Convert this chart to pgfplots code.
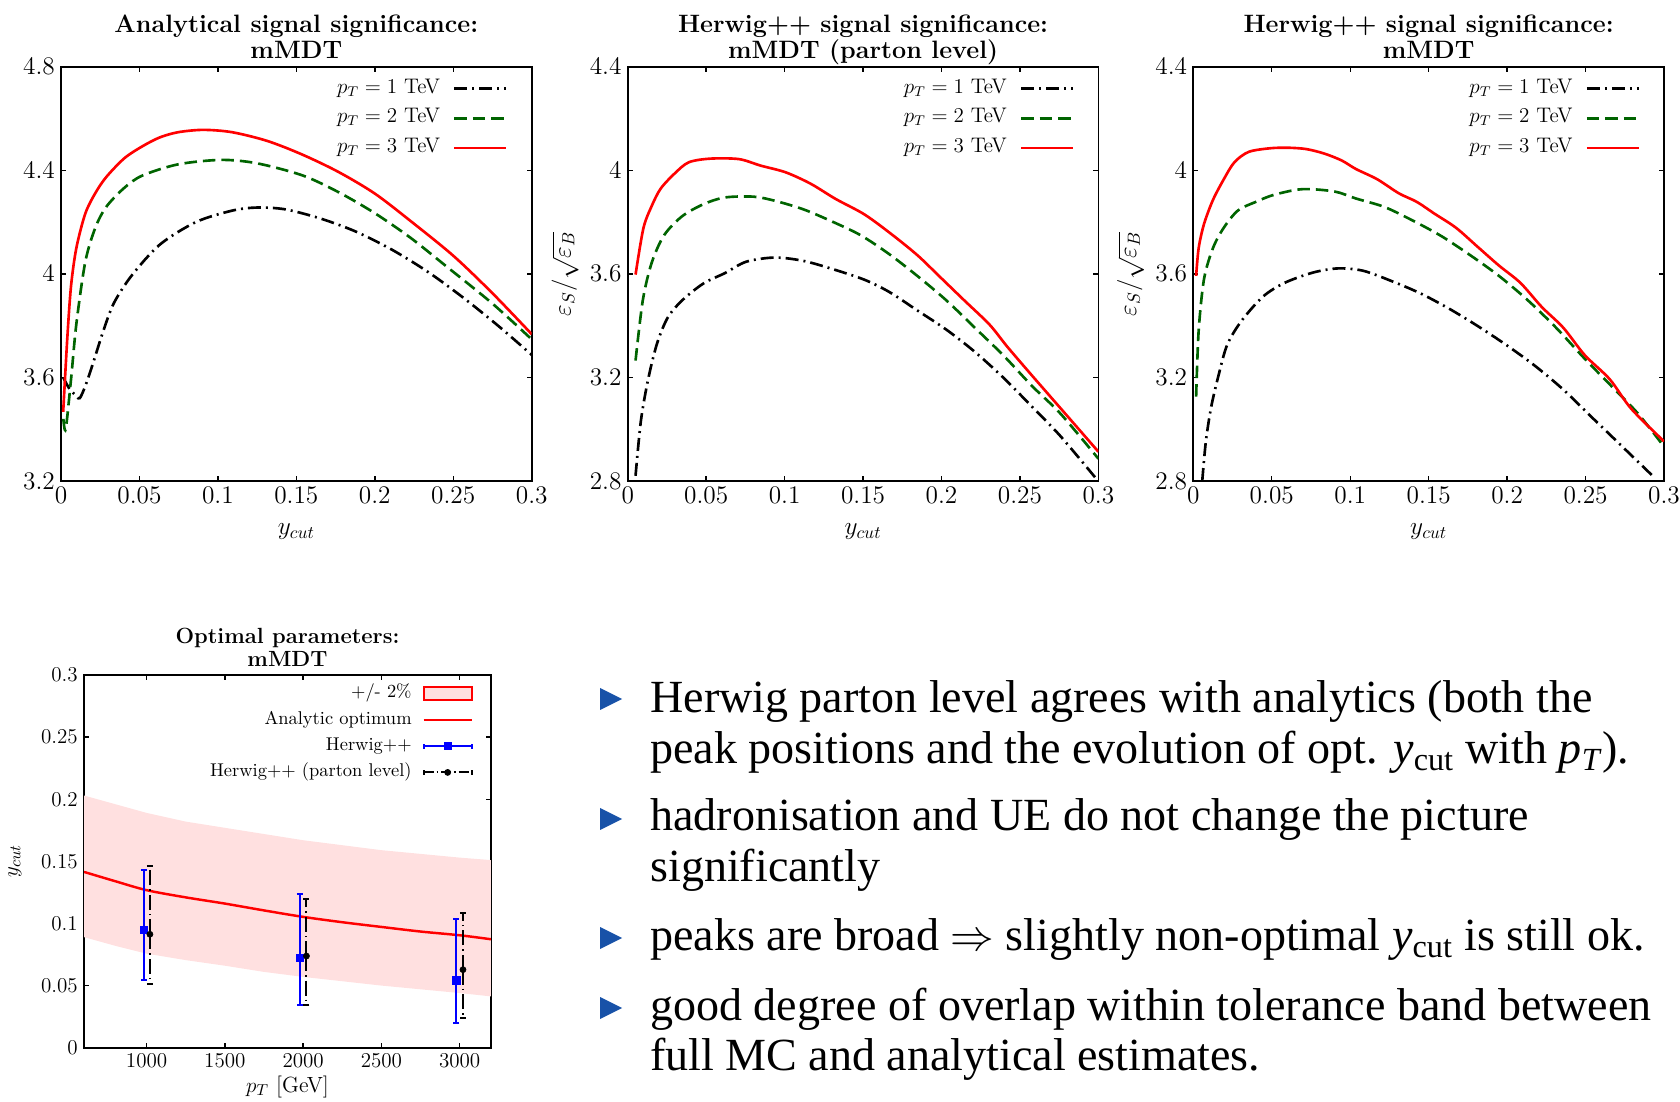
\documentclass[border=0pt]{standalone}
\usepackage{fontspec}
\usepackage{pgfplots}
\pgfplotsset{compat=1.18}
\newfontfamily\bulletfont{Liberation Serif}
\definecolor{dkgreen}{RGB}{0,100,0}
\definecolor{bandpink}{RGB}{255,224,224}
\definecolor{bulletblue}{RGB}{24,82,168}
\newcommand{\yc}{\textit{y}\textsubscript{cut}}
\newcommand{\pT}{\textit{p}\textsubscript{\textit{T}}}
\newcommand{\nodepth}[1]{\raisebox{0pt}[\height][0pt]{#1}}

\pgfplotsset{
  common/.style={
    scale only axis, anchor=south west,
    scaled ticks=false, minor tick num=0,
    axis line style={line width=1pt},
    major tick length=0.1cm,
    every tick/.style={black, line width=0.8pt},
    title style={align=center, yshift=-0.17cm},
    legend cell align=right, legend plot pos=right,
  },
  sigplot/.style={
    common, width=9.414cm, height=8.286cm,
    xmin=0, xmax=0.3, xtick={0,0.05,0.1,0.15,0.2,0.25,0.3},
    xticklabel style={/pgf/number format/fixed, /pgf/number format/precision=2},
    yticklabel style={/pgf/number format/fixed, /pgf/number format/precision=1},
    font=\fontsize{14.3}{15.5}\selectfont,
    title style={font=\fontsize{14.3}{14.8}\selectfont\bfseries},
    xlabel={$y_{cut}$},
    xlabel style={at={(axis description cs:0.5,-0.123)}, anchor=center},
    ylabel style={at={(axis description cs:-0.133,0.5)}, anchor=center},
    legend style={draw=none, fill=none, at={(0.95,0.969)}, anchor=north east,
      font=\fontsize{12}{13}\selectfont, row sep=0.24cm, column sep=0.26cm,
      inner sep=0pt, nodes={inner sep=0pt, text height=0.75em, text depth=0.25em}},
    legend image code/.code={\draw[#1] (0cm,0cm) -- (1.04cm,0cm);},
  },
  ptone/.style={black, line width=1.5pt, dash pattern=on 0.26cm off 0.1cm on 0.04cm off 0.1cm},
  pttwo/.style={dkgreen, line width=1.5pt, dash pattern=on 0.25cm off 0.12cm},
  ptthree/.style={red, line width=1.5pt},
}

\begin{document}
\begin{tikzpicture}
\path[use as bounding box] (0,0) rectangle (33.6,22.02);

% analytical
\begin{axis}[sigplot, at={(1.22cm,12.40cm)},
  ymin=3.2, ymax=4.8, ytick={3.2,3.6,4,4.4,4.8},
  title={Analytical signal significance:\\mMDT}]
\addplot[ptone, smooth, tension=0.5] coordinates {
(0.0014,3.60)(0.005,3.56)(0.0098,3.527)(0.012,3.52)(0.0155,3.567)(0.02,3.647)(0.027,3.78)
(0.0337,3.887)(0.045,3.993)(0.063,4.113)(0.086,4.20)(0.109,4.244)(0.1248,4.256)(0.143,4.249)
(0.1657,4.213)(0.188,4.163)(0.211,4.093)(0.234,4.007)(0.257,3.905)(0.2795,3.795)(0.3,3.687)};
\addlegendentry{$p_T = 1$ TeV}
\addplot[pttwo, smooth, tension=0.5] coordinates {
(0.0015,3.44)(0.003,3.40)(0.0064,3.593)(0.0098,3.807)(0.0155,4.047)(0.022,4.18)(0.029,4.26)
(0.0405,4.333)(0.052,4.38)(0.0747,4.423)(0.102,4.44)(0.1248,4.427)(0.154,4.38)(0.177,4.315)
(0.1998,4.235)(0.2226,4.14)(0.2454,4.03)(0.275,3.885)(0.3,3.747)};
\addlegendentry{$p_T = 2$ TeV}
\addplot[ptthree, smooth, tension=0.5] coordinates {
(0.0014,3.467)(0.004,3.75)(0.0064,3.953)(0.0098,4.10)(0.0155,4.233)(0.022,4.313)(0.029,4.375)
(0.0405,4.447)(0.052,4.493)(0.063,4.527)(0.0747,4.547)(0.0906,4.556)(0.109,4.547)(0.1316,4.513)
(0.154,4.46)(0.177,4.393)(0.2,4.31)(0.2226,4.205)(0.25,4.07)(0.275,3.925)(0.3,3.767)};
\addlegendentry{$p_T = 3$ TeV}
\end{axis}

% herwig parton level
\begin{axis}[sigplot, at={(12.554cm,12.40cm)},
  ymin=2.8, ymax=4.4, ytick={2.8,3.2,3.6,4,4.4},
  ylabel={$\varepsilon_S/\sqrt{\varepsilon_B}$},
  title={Herwig++ signal significance:\\\nodepth{mMDT (parton level)}}]
\addplot[ptone, smooth, tension=0.5] coordinates {
(0.005,2.82)(0.0084,3.032)(0.013,3.192)(0.0187,3.331)(0.0255,3.431)(0.0346,3.497)(0.0483,3.563)
(0.062,3.603)(0.0756,3.647)(0.0939,3.663)(0.112,3.65)(0.1303,3.619)(0.151,3.577)(0.1667,3.53)
(0.185,3.457)(0.2032,3.384)(0.2214,3.298)(0.2396,3.198)(0.258,3.085)(0.276,2.972)(0.299,2.806)};
\addlegendentry{$p_T = 1$ TeV}
\addplot[pttwo, smooth, tension=0.5] coordinates {
(0.005,3.265)(0.0096,3.497)(0.0153,3.643)(0.0232,3.749)(0.0346,3.822)(0.0483,3.869)(0.062,3.895)
(0.0802,3.898)(0.0939,3.882)(0.112,3.849)(0.1303,3.802)(0.1485,3.749)(0.1667,3.676)(0.185,3.59)
(0.2032,3.497)(0.2214,3.391)(0.2396,3.284)(0.258,3.165)(0.276,3.059)(0.3,2.886)};
\addlegendentry{$p_T = 2$ TeV}
\addplot[ptthree, smooth, tension=0.5] coordinates {
(0.005,3.597)(0.01,3.776)(0.0153,3.862)(0.021,3.929)(0.03,3.988)(0.039,4.031)(0.0529,4.045)
(0.071,4.043)(0.0847,4.018)(0.1007,3.992)(0.1166,3.948)(0.1326,3.889)(0.151,3.829)(0.169,3.749)
(0.185,3.67)(0.1987,3.59)(0.2146,3.497)(0.2306,3.404)(0.242,3.318)(0.258,3.205)(0.276,3.08)(0.3,2.913)};
\addlegendentry{$p_T = 3$ TeV}
\end{axis}

% herwig full
\begin{axis}[sigplot, at={(23.866cm,12.40cm)},
  ymin=2.8, ymax=4.4, ytick={2.8,3.2,3.6,4,4.4},
  ylabel={$\varepsilon_S/\sqrt{\varepsilon_B}$},
  title={Herwig++ signal significance:\\mMDT}]
\addplot[ptone, smooth, tension=0.5] coordinates {
(0.0057,2.8)(0.008,2.953)(0.0114,3.086)(0.016,3.206)(0.0216,3.326)(0.0308,3.419)(0.0444,3.512)
(0.0581,3.565)(0.0763,3.605)(0.0923,3.621)(0.1082,3.612)(0.1264,3.572)(0.1446,3.525)(0.1629,3.466)
(0.1811,3.399)(0.1993,3.326)(0.2175,3.246)(0.2358,3.153)(0.254,3.046)(0.2722,2.94)(0.2939,2.813)};
\addlegendentry{$p_T = 1$ TeV}
\addplot[pttwo, smooth, tension=0.5] coordinates {
(0.0018,3.126)(0.0034,3.379)(0.0068,3.579)(0.0125,3.699)(0.0194,3.778)(0.0285,3.845)(0.0399,3.878)
(0.0513,3.905)(0.0695,3.927)(0.09,3.918)(0.1036,3.891)(0.1219,3.858)(0.1401,3.805)(0.1583,3.745)
(0.1765,3.672)(0.1948,3.592)(0.213,3.499)(0.2312,3.392)(0.2495,3.272)(0.2677,3.159)(0.2836,3.059)(0.3,2.933)};
\addlegendentry{$p_T = 2$ TeV}
\addplot[ptthree, smooth, tension=0.5] coordinates {
(0.0018,3.592)(0.0034,3.699)(0.0068,3.792)(0.0125,3.885)(0.0194,3.965)(0.0262,4.031)(0.0353,4.071)
(0.049,4.085)(0.0604,4.087)(0.0718,4.082)(0.0832,4.065)(0.0945,4.038)(0.1036,4.005)(0.1173,3.965)
(0.131,3.911)(0.1424,3.878)(0.1538,3.832)(0.1674,3.778)(0.1811,3.705)(0.1948,3.632)(0.2085,3.565)
(0.2221,3.472)(0.2358,3.392)(0.2495,3.286)(0.2654,3.193)(0.2791,3.079)(0.3,2.953)};
\addlegendentry{$p_T = 3$ TeV}
\end{axis}

% optimal parameters
\begin{axis}[common, at={(1.68cm,1.066cm)}, width=8.14cm, height=7.454cm,
  xmin=600, xmax=3200, ymin=0, ymax=0.3,
  xtick={1000,1500,2000,2500,3000}, ytick={0,0.05,0.1,0.15,0.2,0.25,0.3},
  xticklabel style={/pgf/number format/1000 sep={}},
  yticklabel style={/pgf/number format/fixed, /pgf/number format/precision=2},
  font=\fontsize{12.5}{13.5}\selectfont,
  title style={font=\fontsize{12.5}{13}\selectfont\bfseries},
  title={Optimal parameters:\\mMDT},
  xlabel={$p_T$ [GeV]}, ylabel={$y_{cut}$},
  xlabel style={at={(axis description cs:0.5,-0.105)}, anchor=center},
  ylabel style={at={(axis description cs:-0.17,0.5)}, anchor=center},
  legend style={draw=none, fill=none, at={(0.956,0.975)}, anchor=north east,
    font=\fontsize{10.5}{11.5}\selectfont, row sep=0.175cm, column sep=0.22cm,
    inner sep=0pt, nodes={inner sep=0pt, text height=0.75em, text depth=0.25em}}]
\addlegendimage{legend image code/.code={\draw[red, line width=1.2pt, fill=bandpink] (0cm,-0.13cm) rectangle (0.96cm,0.13cm);}}
\addlegendentry{+/- 2\%}
\addlegendimage{legend image code/.code={\draw[red, line width=1.2pt] (0cm,0cm) -- (0.96cm,0cm);}}
\addlegendentry{Analytic optimum}
\addlegendimage{legend image code/.code={\draw[blue, line width=1.2pt] (0cm,0cm) -- (0.96cm,0cm) (0cm,-0.05cm) -- (0cm,0.05cm) (0.96cm,-0.05cm) -- (0.96cm,0.05cm); \fill[blue] (0.41cm,-0.07cm) rectangle (0.55cm,0.07cm);}}
\addlegendentry{Herwig++}
\addlegendimage{legend image code/.code={\draw[black, line width=1.2pt, dash pattern=on 0.2cm off 0.06cm on 0.03cm off 0.06cm] (0cm,0cm) -- (0.96cm,0cm); \draw[black, line width=1.2pt] (0cm,-0.05cm) -- (0cm,0.05cm) (0.96cm,-0.05cm) -- (0.96cm,0.05cm); \fill[black] (0.48cm,0cm) circle (0.06cm);}}
\addlegendentry{Herwig++ (parton level)}

\addplot[fill=bandpink, draw=none, forget plot] coordinates {
(600,0.203)(800,0.196)(1000,0.189)(1250,0.182)(1500,0.177)(1750,0.172)(2000,0.167)
(2250,0.163)(2500,0.159)(2750,0.156)(3000,0.153)(3200,0.151)
(3200,0.0413)(3000,0.044)(2750,0.047)(2500,0.050)(2250,0.0535)(2000,0.057)
(1750,0.061)(1500,0.066)(1250,0.0705)(1000,0.0757)(800,0.082)(600,0.089)};
\addplot[red, line width=1.4pt, smooth, forget plot] coordinates {
(600,0.1415)(800,0.134)(1000,0.1268)(1250,0.121)(1500,0.116)(1750,0.1105)(2000,0.1053)
(2250,0.101)(2500,0.0972)(2750,0.0935)(3000,0.0905)(3200,0.0873)};
\addplot[blue, only marks, mark=square*, mark size=0.073cm, forget plot,
  error bars/.cd, y dir=both, y explicit,
  error bar style={blue, line width=1.2pt},
  error mark options={blue, rotate=90, line width=1.2pt, mark size=0.06cm}] coordinates {
(983,0.095) += (0,0.0479) -= (0,0.0408)
(1979,0.0722) += (0,0.0518) -= (0,0.0381)
(2979,0.0542) += (0,0.0492) -= (0,0.0341)};
\addplot[black, only marks, mark=*, mark size=0.06cm, forget plot,
  error bars/.cd, y dir=both, y explicit,
  error bar style={black, line width=1.2pt, dash pattern=on 0.3cm off 0.08cm on 0.03cm off 0.08cm},
  error mark options={black, solid, rotate=90, line width=1.2pt, mark size=0.06cm}] coordinates {
(1021,0.0913) += (0,0.0548) -= (0,0.0398)
(2021,0.0738) += (0,0.0462) -= (0,0.0392)
(3021,0.0628) += (0,0.0457) -= (0,0.0387)};
\end{axis}

% bullet list
\foreach \yy in {8.04,5.64,3.26,1.86}
  \fill[bulletblue] (12.0,\yy+0.22) -- (12.44,\yy) -- (12.0,\yy-0.22) -- cycle;
\begin{scope}[every node/.style={anchor=base west, inner sep=0pt, font=\bulletfont\fontsize{26.2}{30}\selectfont}]
\node at (13.0,7.77) {Herwig parton level agrees with analytics (both the};
\node at (13.0,6.75) {peak positions and the evolution of opt. \yc{} with \pT).};
\node at (13.0,5.41) {hadronisation and UE do not change the picture};
\node at (13.0,4.39) {significantly};
\node at (13.0,3.01) {peaks are broad $\Rightarrow$ slightly non-optimal \yc{} is still ok.};
\node at (13.0,1.61) {good degree of overlap within tolerance band between};
\node at (13.0,0.61) {full MC and analytical estimates.};
\end{scope}
\end{tikzpicture}
\end{document}
